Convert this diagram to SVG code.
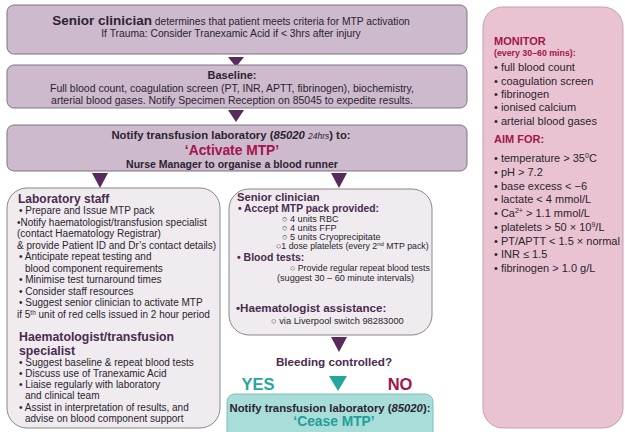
<svg xmlns="http://www.w3.org/2000/svg" width="625" height="432" viewBox="0 0 625 432">
<style>
text{font-family:"Liberation Sans",Arial,sans-serif;fill:#2b2430}
.pbox{fill:#cdbacd;stroke:#7d7580;stroke-width:1}
.gbox{fill:#efebef;stroke:#8a868c;stroke-width:1}
.tri{fill:#5a2a5c}
.teal{fill:#25a79f}
.b{font-weight:bold}
.c{text-anchor:middle}
.h{font-weight:bold;fill:#4a2b4f}
.cr{fill:#a3154b}
.body{font-size:10px}
.pk{font-size:11px;fill:#333}
</style>
<g id="connectors">
<polygon class="tri" points="228,57 244,57 236,67"/>
<polygon class="tri" points="228,110 244,110 236,122"/>
<polygon class="tri" points="92,173 108,173 100,188"/>
<polygon class="tri" points="331,173 347,173 339,188"/>
<polygon class="tri" points="331,337 347,337 339,352"/>
<polygon class="teal" points="329,376 347,376 338,391"/>
</g>
<g id="n-senior">
<rect class="pbox" x="7" y="5" width="460" height="49" rx="7"/>
<text x="231" y="25" class="c" font-size="10.3"><tspan class="b" font-size="13.5">Senior clinician</tspan> determines that patient meets criteria for MTP activation</text>
<text x="231" y="37" class="c" font-size="10.3">If Trauma: Consider Tranexamic Acid if &lt; 3hrs after injury</text>
</g>
<g id="n-baseline">
<rect class="pbox" x="7" y="65" width="460" height="43" rx="7"/>
<text x="232" y="79" class="c b" font-size="11">Baseline:</text>
<text x="232" y="91.5" class="c" font-size="10.5">Full blood count, coagulation screen (PT, INR, APTT, fibrinogen), biochemistry,</text>
<text x="232" y="104" class="c" font-size="10.5">arterial blood gases. Notify Specimen Reception on 85045 to expedite results.</text>
</g>
<g id="n-activate">
<rect class="pbox" x="7" y="125" width="460" height="46" rx="7"/>
<text x="231" y="139" class="c b" font-size="11.3">Notify transfusion laboratory (<tspan font-style="italic">85020</tspan>  <tspan font-style="italic" font-weight="normal" font-size="8.5">24hrs</tspan>) to:</text>
<text x="232" y="155" class="c b cr" font-size="13.8">‘Activate MTP’</text>
<text x="232" y="167.5" class="c b" font-size="10.5">Nurse Manager to organise a blood runner</text>
</g>
<g id="n-lab">
<rect class="gbox" x="7" y="188" width="213" height="240" rx="20"/>
<text x="18" y="203" class="h" font-size="12">Laboratory staff</text>
<g class="body">
<text x="19" y="214">• Prepare and Issue MTP pack</text>
<text x="17" y="225.5">•Notify haematologist/transfusion specialist</text>
<text x="17" y="237">(contact Haematology Registrar)</text>
<text x="17" y="248.5">&amp; provide Patient ID and Dr’s contact details)</text>
<text x="19" y="260">• Anticipate repeat testing and</text>
<text x="25" y="271.5">blood component requirements</text>
<text x="19" y="283">• Minimise test turnaround times</text>
<text x="19" y="294.5">• Consider staff resources</text>
<text x="19" y="306">• Suggest senior clinician to activate MTP</text>
<text x="17" y="318">if 5<tspan font-size="6.5" dy="-3.5">th</tspan><tspan dy="3.5"> unit of red cells issued in 2 hour period</tspan></text>
</g>
<text x="19" y="341" class="h" font-size="12.3">Haematologist/transfusion</text>
<text x="19" y="354.5" class="h" font-size="12.3">specialist</text>
<g class="body">
<text x="19" y="366">• Suggest baseline &amp; repeat blood tests</text>
<text x="19" y="377">• Discuss use of Tranexamic Acid</text>
<text x="19" y="388">• Liaise regularly with laboratory</text>
<text x="25" y="399">and clinical team</text>
<text x="19" y="410.5">• Assist in interpretation of results, and</text>
<text x="25" y="421.5">advise on blood component support</text>
</g>
</g>
<g id="n-clinician">
<rect class="gbox" x="229" y="189" width="203" height="146" rx="20"/>
<text x="237" y="201" class="h" font-size="11.2">Senior clinician</text>
<text x="238" y="212" class="h" font-size="10.3">• Accept MTP pack provided:</text>
<g font-size="9.1">
<text x="282" y="222">○ 4 units RBC</text>
<text x="282" y="231">○ 4 units FFP</text>
<text x="282" y="240">○ 5 units Cryoprecipitate</text>
<text x="276" y="249" font-size="8.8">○1 dose platelets (every 2<tspan font-size="6" dy="-3">nd</tspan><tspan dy="3"> MTP pack)</tspan></text>
</g>
<text x="237" y="261" class="h" font-size="10.5">• Blood tests:</text>
<g font-size="8.8">
<text x="290" y="271">○ Provide regular repeat blood tests</text>
<text x="277" y="280.5" font-size="9.1">(suggest 30 – 60 minute intervals)</text>
</g>
<text x="236" y="312" class="h" font-size="11.6">•Haematologist assistance:</text>
<text x="271" y="324" font-size="9.3">○ via Liverpool switch 98283000</text>
</g>
<g id="n-decision">
<text x="334" y="366" class="c h" font-size="11.7">Bleeding controlled?</text>
<text x="258" y="390" class="c b" font-size="16.5" style="fill:#25a79f">YES</text>
<text x="400" y="390" class="c b cr" font-size="16.5">NO</text>
</g>
<g id="n-cease">
<rect x="227" y="394" width="206" height="50" rx="8" fill="#a9ddd9" stroke="#7fbdb8"/>
<text x="330" y="412" class="c b" font-size="11.3">Notify transfusion laboratory (<tspan font-style="italic">85020</tspan>):</text>
<text x="334" y="426" class="c b" font-size="13.8" style="fill:#1f9f97">‘Cease MTP’</text>
</g>
<g id="n-monitor">
<rect x="483" y="7" width="140" height="421" rx="20" fill="#e9c3d1" stroke="#c99db1"/>
<text x="494" y="45" class="b cr" font-size="11">MONITOR</text>
<text x="494" y="55.5" class="b cr" font-size="8.8">(every 30–60 mins):</text>
<g class="pk">
<text x="494" y="71">• full blood count</text>
<text x="494" y="84.5">• coagulation screen</text>
<text x="494" y="98">• fibrinogen</text>
<text x="494" y="111">• ionised calcium</text>
<text x="494" y="124.5">• arterial blood gases</text>
</g>
<text x="494" y="143" class="b cr" font-size="11">AIM FOR:</text>
<g class="pk">
<text x="494" y="161.5">• temperature &gt; 35<tspan font-size="7" dy="-4">0</tspan><tspan dy="4">C</tspan></text>
<text x="494" y="175.5">• pH &gt; 7.2</text>
<text x="494" y="189.5">• base excess &lt; −6</text>
<text x="494" y="203">• lactate &lt; 4 mmol/L</text>
<text x="494" y="217">• Ca<tspan font-size="7" dy="-4">2+</tspan><tspan dy="4"> &gt; 1.1 mmol/L</tspan></text>
<text x="494" y="230.5">• platelets &gt; 50 × 10<tspan font-size="7" dy="-4">9</tspan><tspan dy="4">/L</tspan></text>
<text x="494" y="244.5">• PT/APTT &lt; 1.5 × normal</text>
<text x="494" y="258">• INR ≤ 1.5</text>
<text x="494" y="272">• fibrinogen &gt; 1.0 g/L</text>
</g>
</g>
</svg>
